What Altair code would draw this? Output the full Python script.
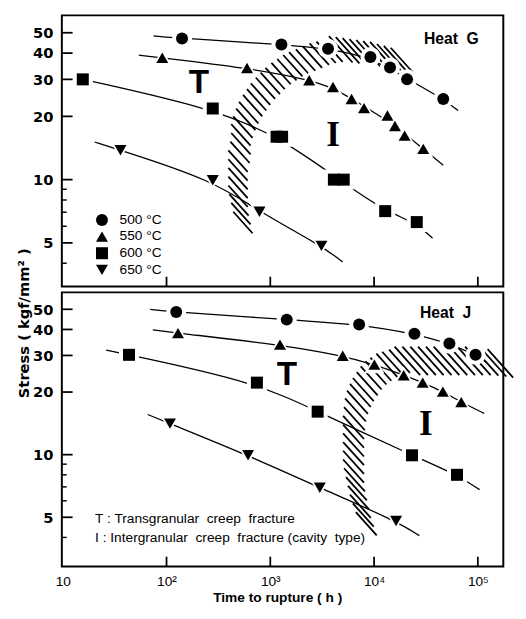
import altair as alt
import pandas as pd

# ---------------- data ----------------
temps = ["500 °C", "550 °C", "600 °C", "650 °C"]
shapes = ["circle", "triangle-up", "square", "triangle-down"]

# Heat G : rupture time (h) and stress (kgf/mm2)
g500_t = [141, 1280, 3600, 9230, 14250, 20800, 46400]
g500_s = [47, 44, 42, 38.3, 34.2, 30, 24.2]
g550_t = [91, 597, 2370, 4020, 6070, 8000, 13460, 15900, 19700, 29800]
g550_s = [38, 34, 29.7, 27.6, 24.2, 21.9, 20.2, 18.0, 16.2, 14.0]
g600_t = [15.6, 279, 1150, 1300, 4100, 5100, 12800, 25800]
g600_s = [30, 21.8, 16, 16, 10, 10, 7.08, 6.28]
g650_t = [36, 279, 787, 3110]
g650_s = [13.8, 9.93, 7.03, 4.84]
# fitted curves (Heat G)
g500_line_t = [75, 141, 1280, 3600, 9230, 20800, 46400, 64600]
g500_line_s = [48.3, 47, 44, 42, 38.3, 30.2, 24.2, 21.3]
g550_line_t = [54, 91, 597, 2370, 4020, 8000, 15900, 29800, 46400]
g550_line_s = [39.1, 38, 34, 29.9, 27.4, 22.4, 18.1, 14.0, 11.7]
g600_line_t = [15.6, 279, 1220, 4570, 12800, 25800, 36600]
g600_line_s = [30, 21.8, 16, 10, 7.08, 6.2, 5.26]
g650_line_t = [20.3, 36, 279, 787, 3110, 4990]
g650_line_s = [15.1, 13.8, 9.93, 7.03, 4.84, 4.06]

# Heat J
j500_t = [124, 1440, 7180, 24500, 53200, 95000]
j500_s = [48.5, 44.6, 42.3, 38.1, 34.2, 30.2]
j550_t = [129, 1240, 4990, 10070, 19300, 29400, 46000, 69200]
j550_s = [38.4, 33.8, 29.9, 27.1, 24.1, 22.2, 20.1, 17.9]
j600_t = [43.5, 743, 2860, 23200, 63000]
j600_s = [30.2, 22.2, 16.1, 9.93, 8.0]
j650_t = [108, 611, 3000, 16300]
j650_s = [14.1, 9.93, 6.93, 4.8]
j500_line_t = [69.5, 124, 1440, 7180, 24500, 53200, 95000, 120000]
j500_line_s = [49.9, 48.5, 44.6, 42.3, 38.1, 34.2, 30.2, 27.8]
j550_line_t = [73.8, 129, 1240, 4990, 10070, 19300, 29400, 46000, 69200, 115000]
j550_line_s = [39.8, 38.4, 33.8, 29.9, 27.1, 24.1, 22.2, 20.1, 17.9, 15.8]
j600_line_t = [26.2, 43.5, 743, 2860, 23200, 63000, 104000]
j600_line_s = [31.8, 30.2, 22.2, 16.1, 9.93, 8.0, 6.79]
j650_line_t = [65.8, 108, 611, 3000, 16300, 27300]
j650_line_s = [15.6, 14.1, 9.93, 6.93, 4.8, 4.08]

# hatched boundary band (centres of hatch strokes, log10 units)
hg_band_logt = [2.736, 2.717, 2.698, 2.689, 2.689, 2.689, 2.689, 2.689, 2.708, 2.717, 2.717,
                2.736, 2.764, 2.792, 2.830, 2.868, 2.906, 2.953, 3.000, 3.047, 3.104, 3.160,
                3.217, 3.274, 3.340, 3.406, 3.472, 3.538, 3.604]
hg_band_logs = [0.796, 0.838, 0.880, 0.921, 0.963, 1.005, 1.046, 1.088, 1.130, 1.171, 1.213,
                1.250, 1.287, 1.319, 1.352, 1.380, 1.407, 1.435, 1.458, 1.481, 1.505, 1.523,
                1.542, 1.556, 1.569, 1.583, 1.597, 1.606, 1.611]
hg_edge_logt = [3.679, 3.745, 3.811, 3.877, 3.943, 4.009, 4.075, 4.142, 4.208, 4.274]
hg_edge_logs = [1.620, 1.616, 1.611, 1.606, 1.602, 1.597, 1.593, 1.583, 1.574, 1.565]

hj_band_logt = [3.925, 3.896, 3.868, 3.849, 3.830, 3.811, 3.802, 3.802, 3.802, 3.802,
                3.802, 3.802, 3.811, 3.821, 3.840, 3.868, 3.896, 3.934, 3.972, 4.019,
                4.066, 4.123, 4.179, 4.245]
hj_band_logs = [0.668, 0.710, 0.752, 0.794, 0.836, 0.879, 0.921, 0.963, 1.005, 1.047,
                1.089, 1.131, 1.173, 1.215, 1.252, 1.285, 1.313, 1.341, 1.369, 1.393,
                1.411, 1.430, 1.439, 1.449]
hj_edge_logt = [4.321, 4.396, 4.472, 4.547, 4.623, 4.698, 4.774, 4.849, 4.925, 5.000,
                5.075, 5.151, 5.217]
hj_edge_logs = [1.451, 1.451, 1.451, 1.451, 1.451, 1.451, 1.451, 1.451, 1.451, 1.451,
                1.448, 1.444, 1.439]

# axis ticks / labels
x_tick_values = [10, 100, 1000, 10000, 100000]
x_tick_labels = ["10", "10²", "10³", "10⁴", "10⁵"]
x_inner_ticks = [100, 1000, 10000, 100000]
y_tick_values = [5, 10, 20, 30, 40, 50]
y_minor_ticks = [4, 6, 7, 8, 9]

# annotations (positions in data units)
heat_g = {"t": [55600], "s": [46.4], "label": ["Heat\u00a0 G"]}
heat_j = {"t": [48900], "s": [48.1], "label": ["Heat\u00a0 J"]}
t_marks_g = {"t": [205], "s": [28.7], "label": ["T"]}
i_marks_g = {"t": [4020], "s": [16.2], "label": ["I"]}
t_marks_j = {"t": [1445], "s": [24.2], "label": ["T"]}
i_marks_j = {"t": [31600], "s": [14.0], "label": ["I"]}
notes_j = {"t": [20.5, 20.5], "s": [4.92, 3.98],
           "label": ["T : Transgranular\u00a0 creep\u00a0 fracture",
                     "I : Intergranular\u00a0 creep\u00a0 fracture (cavity\u00a0 type)"]}

# ---------------- building ----------------
X_DOM = [9.8, 1.76e5]
W = 451


def build_points(series):
    rows = []
    for temp, ts, ss in series:
        for t, s in zip(ts, ss):
            rows.append({"t": t, "s": s, "temp": temp})
    return pd.DataFrame(rows)


def build_lines(series):
    rows = []
    for temp, ts, ss in series:
        for i, (t, s) in enumerate(zip(ts, ss)):
            rows.append({"t": t, "s": s, "temp": temp, "i": i})
    return pd.DataFrame(rows)


label_expr = " : ".join(
    [f"datum.value == {v} ? '{l}'" for v, l in zip(x_tick_values[:-1], x_tick_labels[:-1])]
) + f" : '{x_tick_labels[-1]}'"

SANS = "Liberation Sans"


def panel(points, lines, band, edge, ydom, H, texts, legend, xlabels, ytitle, band_size):
    if xlabels:
        xaxis = alt.Axis(values=x_tick_values, labelExpr=label_expr, ticks=False, domain=False,
                         grid=False, labelFlush=False, labelFont=SANS,
                         labelFontSize=14, labelPadding=8, labelColor="black",
                         title="Time to rupture ( h )", titleFont=SANS,
                         titleFontSize=14, titleFontWeight="bold", titleColor="black",
                         titleX=220, titleY=32, titleAlign="center", titleBaseline="middle")
    else:
        xaxis = None
    xe = alt.X("t:Q", scale=alt.Scale(type="log", domain=X_DOM, nice=False), axis=xaxis)
    yaxis_kw = dict(values=y_tick_values, format="d", ticks=False, domain=False, grid=False,
                    labelFont="DejaVu Sans", labelFontWeight="bold", labelFontSize=15,
                    labelPadding=9, labelColor="black")
    if ytitle:
        yaxis = alt.Axis(title=ytitle, titleFont="DejaVu Sans", titleFontWeight="bold",
                         titleFontSize=15, titleColor="black", titleAngle=270,
                         titleX=-39, titleY=314, titleAlign="center", titleBaseline="middle",
                         **yaxis_kw)
    else:
        yaxis = alt.Axis(title=None, **yaxis_kw)
    ye = alt.Y("s:Q", scale=alt.Scale(type="log", domain=ydom, nice=False), axis=yaxis)

    hatch_shape = "M-0.9,-1L0.9,1"
    band_df = pd.DataFrame({"t": [10 ** v for v in band[0]], "s": [10 ** v for v in band[1]]})
    edge_df = pd.DataFrame({"t": [10 ** v for v in edge[0]], "s": [10 ** v for v in edge[1]]})
    layers = [
        alt.Chart(band_df).mark_point(shape=hatch_shape, size=band_size, filled=False,
                                      stroke="black", strokeWidth=1.8, opacity=1)
        .encode(x=xe, y=ye),
        alt.Chart(edge_df).mark_point(shape=hatch_shape, size=band_size * 1.5, filled=False,
                                      stroke="black", strokeWidth=1.8, opacity=1)
        .encode(x=xe, y=ye),
        alt.Chart(lines).mark_line(color="black", strokeWidth=1.3, interpolate="basis")
        .encode(x=xe, y=ye, detail="temp:N", order="i:Q"),
    ]
    # white halos cut the lines around each marker
    for temp, shp in zip(temps, shapes):
        sub = points[points["temp"] == temp]
        layers.append(alt.Chart(sub).mark_point(filled=True, color="white", size=420,
                                                opacity=1, shape=shp).encode(x=xe, y=ye))
    shape_scale = alt.Scale(domain=temps, range=shapes)
    if legend:
        leg = alt.Legend(orient="none", legendX=34, legendY=202, title=None,
                         symbolSize=150, symbolFillColor="black",
                         symbolStrokeColor="black", symbolStrokeWidth=0,
                         labelFont=SANS, labelFontSize=14,
                         labelColor="black", labelOffset=11, rowPadding=3, padding=0)
    else:
        leg = None
    layers += [
        alt.Chart(points).mark_point(filled=True, color="black", size=150, opacity=1)
        .encode(x=xe, y=ye, shape=alt.Shape("temp:N", scale=shape_scale, legend=leg)),
        alt.Chart(pd.DataFrame({"t": x_inner_ticks})).mark_rule(color="black", strokeWidth=1.8)
        .encode(x=xe, y=alt.value(H), y2=alt.value(H - 10)),
        alt.Chart(pd.DataFrame({"s": y_tick_values})).mark_rule(color="black", strokeWidth=1.8)
        .encode(y=ye, x=alt.value(0), x2=alt.value(11)),
        alt.Chart(pd.DataFrame({"s": y_minor_ticks})).mark_rule(color="black", strokeWidth=1.5)
        .encode(y=ye, x=alt.value(0), x2=alt.value(5)),
    ]
    for data, kw in texts:
        layers.append(alt.Chart(pd.DataFrame(data)).mark_text(color="black", **kw)
                      .encode(x=xe, y=ye, text="label:N"))
    return alt.layer(*layers).properties(width=W, height=H)


pts_g = build_points([(temps[0], g500_t, g500_s), (temps[1], g550_t, g550_s),
                      (temps[2], g600_t, g600_s), (temps[3], g650_t, g650_s)])
lines_g = build_lines([(temps[0], g500_line_t, g500_line_s),
                       (temps[1], g550_line_t, g550_line_s),
                       (temps[2], g600_line_t, g600_line_s),
                       (temps[3], g650_line_t, g650_line_s)])
pts_j = build_points([(temps[0], j500_t, j500_s), (temps[1], j550_t, j550_s),
                      (temps[2], j600_t, j600_s), (temps[3], j650_t, j650_s)])
lines_j = build_lines([(temps[0], j500_line_t, j500_line_s),
                       (temps[1], j550_line_t, j550_line_s),
                       (temps[2], j600_line_t, j600_line_s),
                       (temps[3], j650_line_t, j650_line_s)])

heat_kw = dict(font=SANS, fontSize=16, fontWeight="bold", align="center", baseline="middle")
t_kw = dict(font=SANS, fontSize=34, fontWeight="bold", align="center", baseline="middle")
i_kw = dict(font="Liberation Serif", fontSize=36, fontWeight="bold", align="center",
            baseline="middle")
note_kw = dict(font=SANS, fontSize=14, align="left", baseline="middle")

top = panel(pts_g, lines_g, (hg_band_logt, hg_band_logs), (hg_edge_logt, hg_edge_logs),
            [3.1, 60.5], 277,
            [(heat_g, heat_kw), (t_marks_g, t_kw), (i_marks_g, i_kw)],
            legend=True, xlabels=False, ytitle="Stress ( kgf/mm² )", band_size=480)
bottom = panel(pts_j, lines_j, (hj_band_logt, hj_band_logs), (hj_edge_logt, hj_edge_logs),
               [2.9, 60.3], 280,
               [(heat_j, heat_kw), (t_marks_j, t_kw), (i_marks_j, i_kw), (notes_j, note_kw)],
               legend=False, xlabels=True, ytitle=None, band_size=560)

chart = alt.vconcat(top, bottom, spacing=6, bounds="flush").resolve_legend(
    shape="independent"
).configure_view(
    stroke="black", strokeWidth=2
).properties(
    padding={"left": 8, "top": 0, "right": 0, "bottom": 0},
    background="white",
)

chart.save("out.html", embed_options={"renderer": "svg", "actions": False})
